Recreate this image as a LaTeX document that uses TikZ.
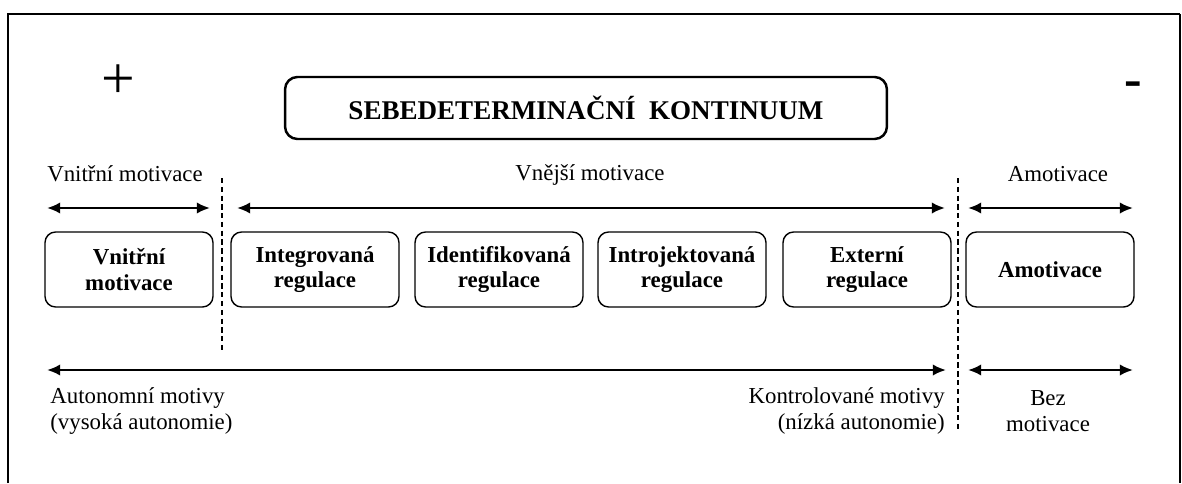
\documentclass[tikz,border=0pt]{standalone}
\usepackage{fontspec}
\setmainfont{Liberation Serif}
\usetikzlibrary{arrows.meta}

\begin{document}
\begin{tikzpicture}[x=0.02cm,y=-0.02cm,
  typbox/.style={draw,rounded corners=6pt,line width=0.8pt,minimum width=3.36cm,minimum height=1.5cm,align=center,inner sep=1pt,font=\fontsize{13}{14.7}\selectfont\bfseries},
  popis/.style={font=\fontsize{13}{14.7}\selectfont,inner sep=0pt},
  dvojsipka/.style={{Latex[length=7.5pt,width=6.5pt]}-{Latex[length=7.5pt,width=6.5pt]},line width=1.3pt},
  predel/.style={line width=0.6pt,dash pattern=on 3pt off 2pt}]

\useasboundingbox (0,0) rectangle (1182,483);

% ramecek
\draw[line width=1.4pt] (8,483) -- (8,14) -- (1180,14);
\draw[line width=0.6pt] (1180,14) -- (1180,483);

% nadpis
\node[draw,rounded corners=7pt,line width=1.4pt,minimum width=12.04cm,minimum height=1.24cm,font=\fontsize{15.4}{18}\selectfont\bfseries] (nadpis) at (586,108) {SEBEDETERMINAČNÍ\ \ KONTINUUM};
\node[font=\fontsize{34}{34}\selectfont,inner sep=0pt] (plus) at (118,82) {+};
\node[font=\fontsize{30}{30}\selectfont\bfseries,inner sep=0pt] (minus) at (1133,89) {-};

% horni popisky
\node[popis] (vnitrni) at (125,174) {Vnitřní motivace};
\node[popis] (vnejsi) at (590,175) {Vnější motivace};
\node[popis] (amot) at (1058,174) {Amotivace};

% typy motivace
\node[typbox] (b1) at (129,269.5) {Vnitřní\\motivace};
\node[typbox] (b2) at (315,269.5) {Integrovaná\\regulace};
\node[typbox] (b3) at (499,269.5) {Identifikovaná\\regulace};
\node[typbox] (b4) at (682,269.5) {Introjektovaná\\regulace};
\node[typbox] (b5) at (867,269.5) {Externí\\regulace};
\node[typbox] (b6) at (1050,269.5) {Amotivace};

% predely
\coordinate (d1a) at (222,178); \coordinate (d1b) at (222,352);
\coordinate (d2a) at (958,178); \coordinate (d2b) at (958,432);
\draw[predel] (d1a) -- (d1b);
\draw[predel] (d2a) -- (d2b);

% sipky
\coordinate (h1) at (47,208);  \coordinate (h2) at (210,208);
\coordinate (h3) at (237,208); \coordinate (h4) at (945,208);
\coordinate (h5) at (968,208); \coordinate (h6) at (1133,208);
\coordinate (s1) at (47,370);  \coordinate (s2) at (946,370);
\coordinate (s3) at (968,370); \coordinate (s4) at (1133,370);
\draw[dvojsipka] (h1) -- (h2);
\draw[dvojsipka] (h3) -- (h4);
\draw[dvojsipka] (h5) -- (h6);
\draw[dvojsipka] (s1) -- (s2);
\draw[dvojsipka] (s3) -- (s4);

% dolni popisky
\node[popis,anchor=west,align=left] (auton) at (50,411) {Autonomní motivy\\(vysoká autonomie)};
\node[popis,anchor=east,align=right] (kontr) at (945,411) {Kontrolované motivy\\(nízká autonomie)};
\node[popis,align=center] (bez) at (1048,411) {Bez\\motivace};

\end{tikzpicture}
\end{document}
